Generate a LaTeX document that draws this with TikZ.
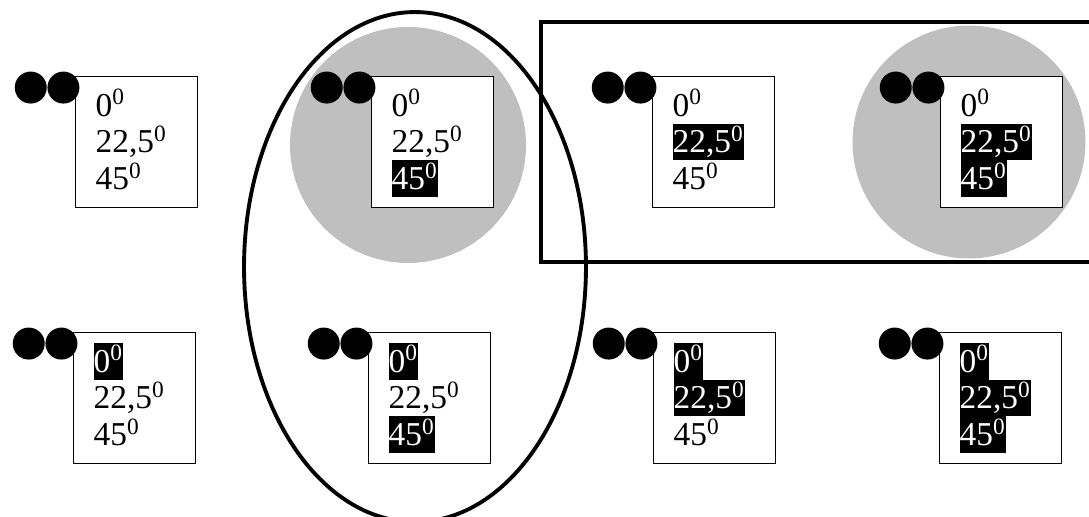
\documentclass[tikz,border=0pt]{standalone}
\usepackage{fontspec}
\setmainfont{Liberation Serif}
\usetikzlibrary{positioning}

\newcommand{\lstrut}{\rule[-4.5pt]{0pt}{20.8pt}}
\newcommand{\loline}[1]{\lstrut#1}
\newcommand{\hiline}[1]{{\setlength{\fboxsep}{0pt}\colorbox{black}{\color{white}\lstrut#1}}}
\newcommand{\dg}[1]{#1\textsuperscript{0}}

\begin{document}
\begin{tikzpicture}[
    x=0.02cm, y=-0.02cm,
    box/.style={draw, line width=0.8pt, fill=white, anchor=north west,
                minimum width=2.44cm, minimum height=2.62cm,
                inner xsep=0.4cm, inner ysep=0pt, text width=1.64cm,
                align=left, font=\fontsize{19}{20.8}\selectfont},
    dot/.style={circle, fill=black, inner sep=0pt, minimum size=0.64cm},
    frame/.style={line width=2.2pt},
    halo/.style={fill=black!25}
  ]
  \useasboundingbox (0,0) rectangle (1089,517);

  % Grey discs
  \fill[halo] (408,145) circle[radius=2.36cm];
  \fill[halo] (969,142) circle[radius=2.33cm];

  % Groupings
  \draw[frame] (415,267) ellipse[x radius=3.42cm, y radius=5.1cm];
  \draw[frame] (541,22) rectangle (1110,262);

  % Row 1
  \node[box] (b1) at (75,76)
    {\loline{\dg{0}}\\\loline{\dg{22,5}}\\\loline{\dg{45}}};
  \node[box] (b2) at (371,76)
    {\loline{\dg{0}}\\\loline{\dg{22,5}}\\\hiline{\dg{45}}};
  \node[box] (b3) at (652,76)
    {\loline{\dg{0}}\\\hiline{\dg{22,5}}\\\loline{\dg{45}}};
  \node[box] (b4) at (940,76)
    {\loline{\dg{0}}\\\hiline{\dg{22,5}}\\\hiline{\dg{45}}};

  % Row 2
  \node[box] (b5) at (73,332)
    {\hiline{\dg{0}}\\\loline{\dg{22,5}}\\\loline{\dg{45}}};
  \node[box] (b6) at (368,332)
    {\hiline{\dg{0}}\\\loline{\dg{22,5}}\\\hiline{\dg{45}}};
  \node[box] (b7) at (653,332)
    {\hiline{\dg{0}}\\\hiline{\dg{22,5}}\\\loline{\dg{45}}};
  \node[box] (b8) at (939,332)
    {\hiline{\dg{0}}\\\hiline{\dg{22,5}}\\\hiline{\dg{45}}};

  % Dot pairs
  \foreach \b in {b1,b2,b3,b4,b5,b6,b7,b8} {
    \node[dot, anchor=north east] (\b-r) at (\b.north west) {};
    \node[dot, left=0pt of \b-r] (\b-l) {};
  }
\end{tikzpicture}
\end{document}
